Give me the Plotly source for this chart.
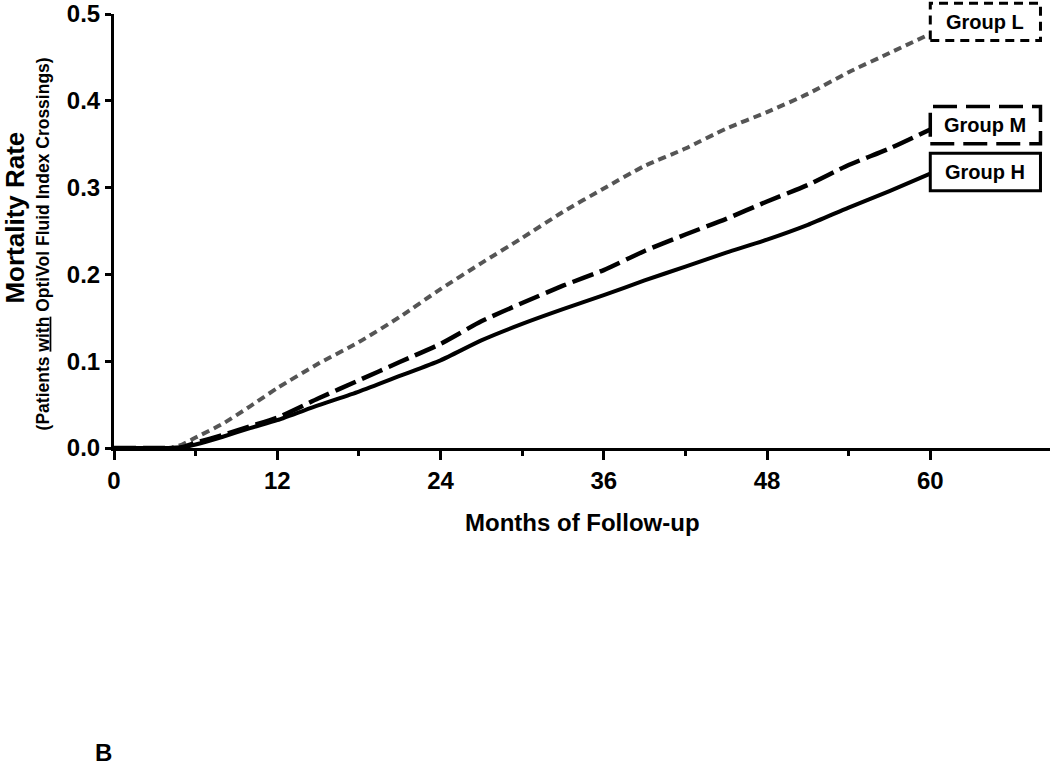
import plotly.graph_objects as go

# ---- data ----
months = [0, 4, 5, 6, 8, 10, 12, 15, 18, 21, 24, 27, 30, 33, 36, 39, 42, 45, 48, 51, 54, 57, 60]
group_L = [0, 0, 0.004, 0.012, 0.028, 0.048, 0.069, 0.097, 0.122, 0.151, 0.183, 0.213, 0.242,
           0.272, 0.299, 0.325, 0.345, 0.368, 0.387, 0.408, 0.433, 0.455, 0.477]
group_M = [0, 0, 0.001, 0.006, 0.015, 0.025, 0.035, 0.057, 0.078, 0.099, 0.120, 0.146, 0.167,
           0.187, 0.205, 0.227, 0.246, 0.264, 0.284, 0.303, 0.326, 0.345, 0.367]
group_H = [0, 0, 0.0005, 0.004, 0.013, 0.023, 0.032, 0.049, 0.065, 0.083, 0.101, 0.124, 0.143,
           0.160, 0.176, 0.193, 0.209, 0.225, 0.240, 0.257, 0.277, 0.296, 0.316]
group_names = ["Group L", "Group M", "Group H"]
label_centers = [0.491, 0.372, 0.318]   # vertical centers of the label boxes (mortality units)
x_ticks = [0, 12, 24, 36, 48, 60]
x_minor_ticks = [6, 18, 30, 42, 54]
y_ticks = [0.0, 0.1, 0.2, 0.3, 0.4, 0.5]
y_ticklabels = ["0.0", "0.1", "0.2", "0.3", "0.4", "0.5"]

FONT = "Liberation Sans, Arial, sans-serif"
Y_MAX = 0.5
PLOT_L, PLOT_T, PLOT_B = 114, 11, 448   # plot-area pixel edges
PLOT_H = PLOT_B - PLOT_T
PLOT_W = 1050 - PLOT_L


def px_x(px):
    return (px - PLOT_L) / PLOT_W


def px_y(py):
    return (PLOT_B - py) / PLOT_H


fig = go.Figure()
styles = [
    dict(color="#555555", width=4, dash="8px,5px", shape="spline", smoothing=0.6),
    dict(color="black", width=4.5, dash="22px,7px", shape="spline", smoothing=0.6),
    dict(color="black", width=4, dash="solid", shape="spline", smoothing=0.6),
]
for name, ys, st in zip(group_names, [group_L, group_M, group_H], styles):
    fig.add_trace(go.Scatter(x=months, y=ys, mode="lines", name=name, line=st,
                             showlegend=False, hoverinfo="skip"))

# label boxes
box_styles = [
    dict(color="black", width=3, dash="9px,6px"),
    dict(color="black", width=3.5, dash="24px,9px"),
    dict(color="black", width=3, dash="solid"),
]
box_x0, box_x1 = 60, 68.1
half_h = 0.0215
annotations = []
for name, yc, bst in zip(group_names, label_centers, box_styles):
    fig.add_shape(type="rect", xref="x", yref="paper",
                  x0=box_x0, x1=box_x1,
                  y0=(yc - half_h) / Y_MAX, y1=(yc + half_h) / Y_MAX,
                  line=bst, fillcolor="rgba(0,0,0,0)", layer="above")
    annotations.append(dict(x=(box_x0 + box_x1) / 2, y=yc / Y_MAX, xref="x", yref="paper",
                            xanchor="center", yanchor="middle",
                            text=f"<b>{name}</b>", showarrow=False,
                            font=dict(family=FONT, size=20, color="black")))

annotations += [
    dict(x=0.5, y=px_y(523), xref="paper", yref="paper", xanchor="center", yanchor="middle",
         text="<b>Months of Follow-up</b>", showarrow=False,
         font=dict(family=FONT, size=24, color="black")),
    dict(x=px_x(15), y=px_y(216), xref="paper", yref="paper", xanchor="center", yanchor="middle",
         text="<b>Mortality Rate</b>", textangle=-90, showarrow=False,
         font=dict(family=FONT, size=26, color="black")),
    dict(x=px_x(43), y=px_y(243), xref="paper", yref="paper", xanchor="center", yanchor="middle",
         text="<b>(Patients <u>with</u> OptiVol Fluid Index Crossings)</b>",
         textangle=-90, showarrow=False,
         font=dict(family=FONT, size=17.5, color="black")),
    dict(x=px_x(103), y=px_y(755), xref="paper", yref="paper", xanchor="center", yanchor="middle",
         text="<b>B</b>", showarrow=False,
         font=dict(family=FONT, size=24, color="black")),
]

fig.update_layout(
    width=1050, height=766,
    margin=dict(l=PLOT_L, r=0, t=PLOT_T, b=766 - PLOT_B),
    paper_bgcolor="white", plot_bgcolor="white",
    font=dict(family=FONT, color="black"),
    annotations=annotations,
    xaxis=dict(range=[0, 68.8], tickvals=x_ticks, ticktext=[f"<b>{t}</b>" for t in x_ticks],
               showgrid=False, zeroline=False, showline=True, linecolor="black", linewidth=3,
               ticks="outside", ticklen=9, tickwidth=2.5, tickcolor="black",
               tickfont=dict(family=FONT, size=24, color="black"),
               ticklabeloverflow="allow",
               minor=dict(tickvals=x_minor_ticks, ticks="outside", ticklen=5,
                          tickwidth=2.5, tickcolor="black", showgrid=False),
               fixedrange=True),
    yaxis=dict(range=[0, Y_MAX], tickvals=y_ticks, ticktext=[f"<b>{t}</b>" for t in y_ticklabels],
               showgrid=False, zeroline=False, showline=True, linecolor="black", linewidth=3,
               ticks="outside", ticklen=6, tickwidth=2.5, tickcolor="black",
               tickfont=dict(family=FONT, size=24, color="black"),
               ticklabeloverflow="allow",
               fixedrange=True),
)

fig.write_html("out.html", config={"displayModeBar": False},
               post_script="document.body.style.margin='0';")
